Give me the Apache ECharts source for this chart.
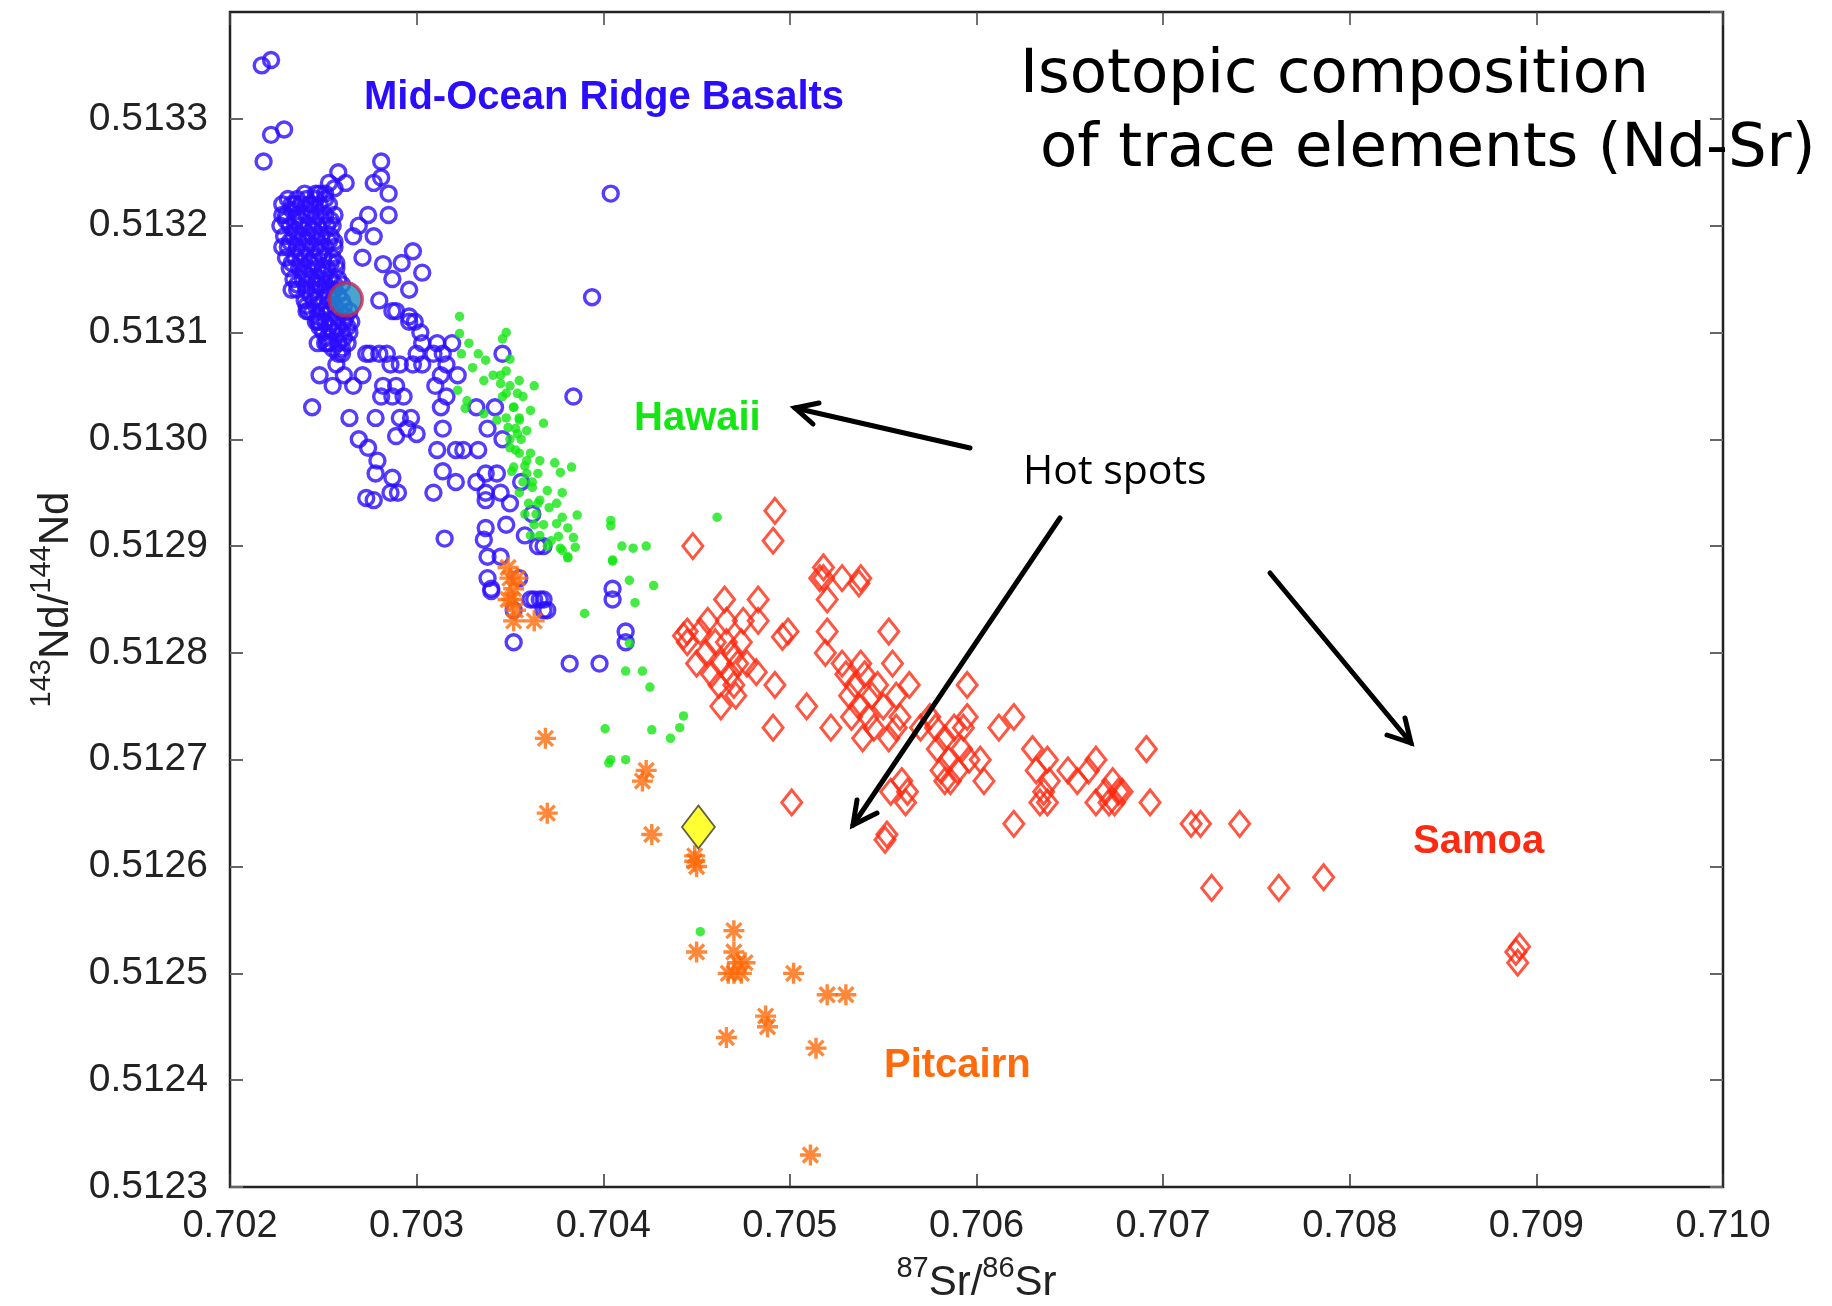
<!DOCTYPE html>
<html>
<head>
<meta charset="utf-8">
<script src="https://cdn.jsdelivr.net/npm/echarts@6/dist/echarts.min.js"></script>
<style>
  html, body { margin: 0; padding: 0; background: #fff; }
  #chart { width: 1832px; height: 1306px; }
</style>
</head>
<body>
<div id="chart"></div>
<script>
// axis ranges / ticks
const xMin = 0.702, xMax = 0.710, xStep = 0.001
const yMin = 0.5123, yMax = 0.5134, yStep = 0.0001

// Mid-Ocean Ridge Basalts (87Sr/86Sr, 143Nd/144Nd)
const morb = [
  [0.70217,0.51335],[0.70222,0.513355],[0.70222,0.513285],[0.70229,0.51329],[0.70218,0.51326],
  [0.70281,0.51326],[0.70258,0.51325],[0.70281,0.513245],[0.70277,0.51324],[0.70285,0.51323],
  [0.70253,0.51324],[0.70285,0.51321],[0.70404,0.51323],[0.70394,0.513133],[0.70274,0.51321],
  [0.70269,0.5132],[0.70266,0.51319],[0.70277,0.51319],[0.70298,0.513176],[0.70292,0.513165],
  [0.70303,0.513156],[0.70282,0.513164],[0.70296,0.51314],[0.70287,0.51315],[0.70271,0.51317],
  [0.7028,0.51313],[0.70241,0.51312],[0.70247,0.51311],[0.70233,0.51314],[0.70228,0.51318],
  [0.70228,0.51321],[0.70235,0.51322],[0.70243,0.51322],[0.70248,0.51323],[0.70287,0.51312],
  [0.70296,0.51311],[0.70302,0.5131],[0.70311,0.51309],[0.70247,0.51309],[0.70251,0.51309],
  [0.70258,0.51308],[0.70275,0.51308],[0.70284,0.51308],[0.70314,0.51308],[0.70346,0.51308],
  [0.70244,0.51303],[0.70248,0.51306],[0.70255,0.51305],[0.70264,0.51302],[0.70278,0.51302],
  [0.70269,0.513],[0.70274,0.512992],[0.70279,0.51298],[0.70278,0.512968],[0.70273,0.512945],
  [0.70277,0.512943],[0.70287,0.512964],[0.70286,0.51295],[0.7029,0.51295],[0.70289,0.513003],
  [0.703,0.513005],[0.70291,0.51302],[0.70297,0.51302],[0.70295,0.51301],[0.70309,0.51295],
  [0.70314,0.51301],[0.70311,0.51299],[0.70321,0.51299],[0.70325,0.51299],[0.70333,0.51299],
  [0.70314,0.51297],[0.70321,0.51296],[0.70332,0.51296],[0.70337,0.512968],[0.70343,0.512968],
  [0.70337,0.51295],[0.70345,0.51295],[0.70337,0.512943],[0.7035,0.51294],[0.70356,0.51296],
  [0.70348,0.51292],[0.70337,0.512917],[0.70336,0.512906],[0.70315,0.512907],[0.70358,0.51291],
  [0.70362,0.51293],[0.70365,0.5129],[0.70368,0.5129],[0.70338,0.51289],[0.70345,0.51289],
  [0.70338,0.51287],[0.7034,0.51286],[0.70355,0.51287],[0.70363,0.51285],[0.70368,0.51285],
  [0.7037,0.51284],[0.70352,0.51284],[0.70405,0.51285],[0.70412,0.51282],[0.70384,0.51304],
  [0.70332,0.51303],[0.70342,0.51303],[0.70338,0.51301],[0.70346,0.513],[0.70322,0.51306],
  [0.70316,0.51307],[0.70313,0.51306],[0.7031,0.51305],[0.70316,0.51304],[0.70313,0.51303],
  [0.70281,0.51304],[0.70287,0.51304],[0.70293,0.51304],[0.70289,0.51305],[0.70282,0.51305],
  [0.70286,0.51307],[0.70291,0.51307],[0.7028,0.51308],[0.70273,0.51308],[0.7026,0.51308],
  [0.70257,0.51307],[0.70271,0.51306],[0.70266,0.51305],[0.70261,0.51306],[0.70252,0.51309],
  [0.70242,0.51312],[0.70248,0.51311],[0.70299,0.51311],[0.70289,0.51312],[0.70296,0.513115],
  [0.70303,0.51309],[0.70309,0.51308],[0.703,0.51308],[0.70319,0.51309],[0.70298,0.51307],
  [0.70303,0.51307],[0.7034,0.512858],[0.70361,0.51285],[0.70366,0.51285],[0.70368,0.51284],
  [0.70382,0.51279],[0.70398,0.51279],[0.70405,0.51286],[0.70412,0.51281],[0.70352,0.51281],
  // dense core of the MORB cloud
  [0.7024,0.51323],[0.70246,0.51323],[0.70251,0.51323],[0.70256,0.513235],[0.70262,0.51324],
  [0.70228,0.51322],[0.70233,0.51322],[0.70238,0.51322],[0.70243,0.51322],[0.70248,0.51322],[0.70253,0.51322],
  [0.7023,0.51321],[0.70236,0.51321],[0.70241,0.51321],[0.70246,0.51321],[0.70251,0.51321],[0.70256,0.51321],
  [0.70227,0.5132],[0.70232,0.5132],[0.70237,0.5132],[0.70242,0.5132],[0.70247,0.5132],[0.70252,0.5132],[0.70255,0.5132],
  [0.70229,0.51319],[0.70234,0.51319],[0.70239,0.51319],[0.70244,0.51319],[0.70249,0.51319],[0.70254,0.51319],
  [0.70231,0.51318],[0.70236,0.51318],[0.70241,0.51318],[0.70246,0.51318],[0.70251,0.51318],[0.70256,0.51318],
  [0.7023,0.51317],[0.70235,0.51317],[0.7024,0.51317],[0.70245,0.51317],[0.7025,0.51317],[0.70255,0.51317],
  [0.70232,0.51316],[0.70237,0.51316],[0.70242,0.51316],[0.70247,0.51316],[0.70252,0.51316],[0.70257,0.51316],
  [0.70234,0.51315],[0.70239,0.51315],[0.70244,0.51315],[0.70249,0.51315],[0.70254,0.51315],[0.70258,0.51315],
  [0.70236,0.51314],[0.70241,0.51314],[0.70246,0.51314],[0.70251,0.51314],[0.70256,0.51314],[0.7026,0.513145],
  [0.7024,0.51313],[0.70245,0.51313],[0.7025,0.51313],[0.70255,0.51313],[0.7026,0.51313],
  [0.70244,0.51312],[0.70249,0.51312],[0.70254,0.51312],[0.70259,0.51312],[0.70264,0.51312],
  [0.70246,0.51311],[0.70251,0.51311],[0.70256,0.51311],[0.70261,0.51311],[0.70265,0.51311],
  [0.7025,0.5131],[0.70255,0.5131],[0.7026,0.5131],[0.70264,0.5131],
  [0.70253,0.51309],[0.70258,0.51309],[0.70263,0.51309],
  [0.70233,0.513215],[0.70243,0.513215],[0.70235,0.513195],[0.70245,0.513195],[0.70238,0.513175],
  [0.70248,0.513175],[0.7024,0.513155],[0.7025,0.513155],[0.70243,0.513135],[0.70253,0.513135],
  [0.70247,0.513115],[0.70257,0.513115],[0.70252,0.513095],[0.70261,0.513095],
  [0.70238,0.513205],[0.7025,0.513205],[0.70242,0.513185],[0.70253,0.513185],[0.70246,0.513165],
  [0.70254,0.513165],[0.70248,0.513145],[0.70258,0.513135],[0.70252,0.513125],[0.70262,0.513115],
  [0.70231,0.513225],[0.70236,0.513225],[0.70241,0.513225],[0.70246,0.513225],[0.70251,0.513225],
  [0.7023,0.513205],[0.70235,0.513205],[0.70245,0.513205],[0.70254,0.513205],
  [0.70232,0.513185],[0.70237,0.513185],[0.70247,0.513185],[0.70256,0.513185],
  [0.70233,0.513165],[0.70238,0.513165],[0.70243,0.513165],[0.70257,0.513165],
  [0.70236,0.513145],[0.70241,0.513145],[0.70246,0.513145],[0.70251,0.513145],[0.70256,0.513145],
  [0.70241,0.513125],[0.70246,0.513125],[0.70256,0.513125],[0.70261,0.513125],
  [0.70248,0.513105],[0.70253,0.513105],[0.70258,0.513105],[0.70263,0.513105],
  [0.70255,0.513085],[0.7026,0.513085]
]

// Hawaii
const hawaii = [
  [0.70323,0.513115],[0.70323,0.513099],[0.70348,0.5131],[0.70346,0.513094],[0.70328,0.51309],
  [0.70333,0.51308],[0.70337,0.513074],[0.70324,0.51308],[0.7033,0.513067],[0.70336,0.513055],
  [0.7035,0.513075],[0.70348,0.513064],[0.70355,0.513055],[0.70363,0.51305],[0.70345,0.513052],
  [0.70348,0.513043],[0.70354,0.513043],[0.70352,0.51303],[0.70361,0.513027],[0.70355,0.513018],
  [0.70368,0.513015],[0.70349,0.513011],[0.70354,0.513005],[0.70359,0.513008],[0.70327,0.513036],
  [0.70326,0.513029],[0.70336,0.513024],[0.70343,0.513018],[0.70322,0.513046],[0.7035,0.512992],
  [0.70355,0.512987],[0.70361,0.512987],[0.70366,0.51298],[0.70352,0.512974],[0.70359,0.512968],
  [0.70365,0.512968],[0.70374,0.512978],[0.70383,0.512974],[0.70377,0.512969],[0.70362,0.512955],
  [0.7037,0.512952],[0.70366,0.512943],[0.70371,0.512936],[0.70378,0.51295],[0.70375,0.51294],
  [0.70378,0.512927],[0.70386,0.512929],[0.70375,0.512921],[0.70381,0.512917],[0.70376,0.512909],
  [0.70384,0.512908],[0.70377,0.512898],[0.70385,0.512899],[0.70381,0.512889],[0.70404,0.512924],
  [0.70404,0.512919],[0.7041,0.5129],[0.70416,0.512898],[0.70423,0.5129],[0.70405,0.512887],
  [0.70414,0.512868],[0.70427,0.512863],[0.70417,0.512847],[0.7039,0.512837],[0.70461,0.512927],
  [0.70378,0.512896],[0.70381,0.51289],[0.70405,0.512886],[0.70414,0.512809],[0.70412,0.512783],
  [0.70421,0.512783],[0.70425,0.512768],[0.70443,0.512741],[0.70441,0.51273],[0.70436,0.51272],
  [0.70426,0.512728],[0.70401,0.512729],[0.70404,0.5127],[0.70412,0.5127],[0.70403,0.512697],
  [0.70452,0.512539],
  [0.70345,0.51306],[0.7035,0.51305],[0.70346,0.51304],[0.70352,0.51303],[0.70348,0.51302],
  [0.70355,0.51302],[0.7035,0.513],[0.70356,0.513],[0.70353,0.51299],[0.70359,0.51298],
  [0.70351,0.51297],[0.70357,0.51296],[0.70362,0.51296],[0.70355,0.51295],[0.7036,0.51294],
  [0.70365,0.51294],[0.70358,0.51293],[0.70363,0.51292],[0.70368,0.51292],[0.70361,0.51291],
  [0.70366,0.51291],[0.7037,0.5129],[0.70357,0.51304],[0.70353,0.51301],[0.70358,0.512975],
  [0.70364,0.51293],[0.70372,0.512905],[0.70341,0.51306]
]

// Samoa
const samoa = [
  [0.70492,0.512933],[0.70491,0.512905],[0.70448,0.5129],[0.70518,0.51288],[0.70518,0.51287],
  [0.70528,0.51287],[0.70538,0.51287],[0.70537,0.512865],[0.7052,0.51285],[0.70516,0.51287],
  [0.70465,0.51285],[0.70483,0.51285],[0.70483,0.51283],[0.70499,0.51282],[0.70496,0.512815],
  [0.7052,0.51282],[0.70553,0.51282],[0.70445,0.51282],[0.70443,0.512816],
  [0.70445,0.51281],[0.70452,0.51282],[0.70455,0.5128],[0.7046,0.51281],[0.70463,0.51279],
  [0.70466,0.51281],[0.70469,0.5128],[0.70458,0.51278],[0.70462,0.51277],[0.70468,0.51278],
  [0.70472,0.51279],[0.7045,0.51279],[0.70474,0.51281],[0.70456,0.51283],[0.70466,0.51283],
  [0.70471,0.51276],[0.70477,0.51279],[0.70463,0.51275],
  [0.70475,0.51283],[0.70482,0.512782],[0.70492,0.51277],[0.7047,0.51277],[0.70509,0.51275],
  [0.70491,0.51273],[0.70522,0.51273],[0.70519,0.5128],[0.70528,0.51279],
  [0.7053,0.51278],[0.70535,0.51277],[0.7054,0.51278],[0.70544,0.51276],[0.70537,0.51275],
  [0.70542,0.51274],[0.70533,0.51274],[0.70547,0.51277],[0.70539,0.51272],[0.70545,0.51273],
  [0.70532,0.51276],[0.7055,0.51275],[0.70538,0.51279],
  [0.70555,0.51279],[0.70564,0.51277],[0.70557,0.51276],[0.70553,0.51272],[0.70559,0.51274],
  [0.70557,0.51273],[0.70595,0.51277],[0.70595,0.51274],[0.7057,0.51273],[0.70575,0.51274],
  [0.70579,0.51271],
  [0.70578,0.51273],[0.70583,0.51272],[0.70588,0.51273],[0.70592,0.51271],[0.70585,0.5127],
  [0.7059,0.51269],[0.70581,0.51269],[0.70596,0.5127],[0.70586,0.51268],[0.70593,0.51273],
  [0.70583,0.51268],[0.70602,0.5127],[0.70604,0.51268],[0.70612,0.51273],[0.7062,0.51274],
  [0.7056,0.51268],[0.70563,0.51267],[0.70562,0.51266],[0.70554,0.51267],[0.70501,0.51266],
  [0.70552,0.51263],[0.70551,0.512625],[0.7062,0.51264],[0.7063,0.51271],
  [0.70632,0.51269],[0.70636,0.51267],[0.70639,0.51268],[0.70634,0.51266],[0.70638,0.5127],
  [0.70638,0.51266],[0.70649,0.51269],[0.70654,0.51268],[0.7066,0.51269],[0.70664,0.5127],
  [0.70669,0.51267],[0.70673,0.51268],[0.70676,0.51267],[0.70671,0.51266],[0.70678,0.51267],
  [0.70674,0.51266],[0.70664,0.51266],[0.70691,0.51271],[0.70693,0.51266],[0.70715,0.51264],
  [0.7072,0.51264],[0.70741,0.51264],[0.70726,0.51258],[0.70762,0.51258],[0.70786,0.51259],
  [0.70889,0.51252],[0.7089,0.51251],[0.70891,0.512525]
]

// Pitcairn
const pitcairn = [
  [0.70349,0.51288],[0.70352,0.51286],[0.7035,0.51287],[0.70351,0.51285],[0.70353,0.51284],
  [0.70349,0.51285],[0.70354,0.51287],[0.70352,0.51283],[0.70363,0.51283],[0.70369,0.51272],
  [0.7037,0.51265],[0.70423,0.51269],[0.70421,0.51268],[0.70426,0.51263],[0.70449,0.51261],
  [0.7045,0.5126],[0.70449,0.512605],[0.7045,0.51252],[0.7047,0.51254],[0.7047,0.51252],
  [0.70476,0.51251],[0.7047,0.5125],[0.70467,0.5125],[0.70474,0.5125],[0.70472,0.51251],
  [0.70487,0.51246],[0.70488,0.51245],[0.70502,0.5125],[0.7052,0.51248],[0.7053,0.51248],
  [0.70466,0.51244],[0.70514,0.51243],[0.70511,0.51233]
]

const yellowPoint = [[0.70451, 0.512637]]
const morbMean = [[0.70262, 0.513131]]

const labelFont = '"Liberation Sans", Arial, Helvetica, sans-serif'
const asterisk = 'path://M8,0L8,16M0,8L16,8M2.3,2.3L13.7,13.7M13.7,2.3L2.3,13.7'

function arrow(tail, tip, armA, armB) {
  const st = { stroke: '#000', lineWidth: 5, fill: null, lineJoin: 'miter', lineCap: 'round' }
  return [
    { type: 'polyline', shape: { points: [tail, tip] }, style: st, z: 100 },
    { type: 'polyline', shape: { points: [armA, tip, armB] }, style: st, z: 100 }
  ]
}

function label(text, x, y, color, font) {
  return {
    type: 'text', x: x, y: y, z: 100,
    style: { text: text, fill: color, font: font, align: 'left', verticalAlign: 'middle', textAlign: 'left', textVerticalAlign: 'middle' }
  }
}

const chart = echarts.init(document.getElementById('chart'), null, { renderer: 'canvas' })

const nameRich = {
  sup: { fontSize: 29, fontFamily: labelFont, color: '#222', lineHeight: 50, verticalAlign: 'top' },
  n: { fontSize: 42, fontFamily: labelFont, color: '#222', lineHeight: 50, verticalAlign: 'bottom' }
}

const mirrorAxis = {
  type: 'value', min: xMin, max: xMax, interval: xStep,
  axisLine: { show: false },
  axisTick: { show: true, inside: true, length: 13, lineStyle: { color: '#444', width: 1.5 } },
  axisLabel: { show: false },
  splitLine: { show: false }
}

chart.setOption({
  animation: false,
  backgroundColor: '#fff',
  grid: { left: 230, right: 109, top: 12, bottom: 119, containLabel: false, outerBoundsMode: 'none',
    show: true, borderColor: '#222', borderWidth: 2.5, backgroundColor: 'transparent' },
  xAxis: [{
    type: 'value', min: xMin, max: xMax, interval: xStep, position: 'bottom',
    axisLine: { show: false },
    axisTick: { show: true, inside: true, length: 13, lineStyle: { color: '#333', width: 1.5 } },
    axisLabel: { fontSize: 38, fontFamily: labelFont, color: '#222', margin: 21,
      formatter: v => v.toFixed(3) },
    splitLine: { show: false },
    name: '{sup|87}{n|Sr/}{sup|86}{n|Sr}',
    nameLocation: 'middle', nameGap: 67,
    nameTextStyle: { rich: nameRich }
  }, Object.assign({}, mirrorAxis, { position: 'top' })],
  yAxis: [{
    type: 'value', min: yMin, max: yMax, interval: yStep, position: 'left',
    axisLine: { show: false },
    axisTick: { show: true, inside: true, length: 13, lineStyle: { color: '#666', width: 2 } },
    axisLabel: { fontSize: 39, fontFamily: labelFont, color: '#222', margin: 22,
      formatter: v => v.toFixed(4),
      showMaxLabel: false },
    splitLine: { show: false },
    name: '{sup|143}{n|Nd/}{sup|144}{n|Nd}',
    nameLocation: 'middle', nameGap: 150, nameRotate: 90,
    nameTextStyle: { rich: nameRich }
  }, Object.assign({}, mirrorAxis, { min: yMin, max: yMax, interval: yStep, position: 'right',
    axisTick: { show: true, inside: true, length: 13, lineStyle: { color: '#666', width: 2 } } })],
  series: [
    {
      name: 'MORB', type: 'scatter', data: morb, symbol: 'circle', symbolSize: 15,
      itemStyle: { color: 'transparent', borderColor: '#2a0cff', borderWidth: 3.4 },
      emphasis: { disabled: true }
    },
    {
      name: 'Hawaii', type: 'scatter', data: hawaii, symbol: 'circle', symbolSize: 9.5,
      itemStyle: { color: '#14e614' },
      emphasis: { disabled: true }
    },
    {
      name: 'Samoa', type: 'scatter', data: samoa, symbol: 'diamond', symbolSize: [20, 25],
      itemStyle: { color: 'transparent', borderColor: '#ff2a12', borderWidth: 3 },
      emphasis: { disabled: true }
    },
    {
      name: 'Pitcairn', type: 'scatter', data: pitcairn, symbol: asterisk, symbolSize: 21,
      itemStyle: { color: 'transparent', borderColor: '#ff6a0a', borderWidth: 3.4 },
      emphasis: { disabled: true }
    },
    {
      name: 'sample', type: 'scatter', data: yellowPoint, symbol: 'diamond', symbolSize: [33, 43],
      itemStyle: { color: '#ffff00', borderColor: '#3a3a2a', borderWidth: 1.8 },
      emphasis: { disabled: true }
    },
    {
      name: 'MORB mean', type: 'scatter', data: morbMean, symbol: 'circle', symbolSize: 33,
      itemStyle: { color: '#1c8ec2', borderColor: '#c02a52', borderWidth: 3.5 },
      emphasis: { disabled: true }
    }
  ],
  graphic: [
    label('Isotopic composition', 1020, 76, '#000', '61px "DejaVu Sans", sans-serif'),
    label('of trace elements (Nd-Sr)', 1040, 150, '#000', '61px "DejaVu Sans", sans-serif'),
    label('Mid-Ocean Ridge Basalts', 364, 98, '#2a0cff', 'bold 40px ' + labelFont),
    label('Hawaii', 634, 419, '#14e614', 'bold 40px ' + labelFont),
    label('Samoa', 1413, 842, '#ff2a12', 'bold 40px ' + labelFont),
    label('Pitcairn', 884, 1066, '#ff6a0a', 'bold 40px ' + labelFont),
    label('Hot spots', 1023, 472, '#000', '41px "Open Sans", sans-serif'),
    ...arrow([970, 448], [795, 408], [819, 403], [813, 424]),
    ...arrow([1060, 518], [853, 825], [857, 800], [877, 813]),
    ...arrow([1270, 573], [1411, 743], [1405, 718], [1387, 735])
  ]
})
</script>
</body>
</html>
